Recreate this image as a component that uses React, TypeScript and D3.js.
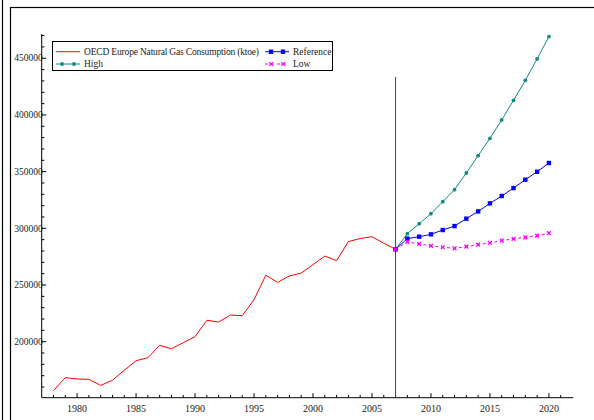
import React, { useEffect, useRef } from "react";
import * as d3 from "d3";

const histYears = d3.range(1978, 2008);
const histValues = [
  156800, 168300, 167100, 166800, 161500, 166000, 174800, 183200, 185900, 196800,
  193800, 199100, 204400, 218900, 217400, 223500, 222900, 237000, 258700, 252300,
  258000, 260500, 267900, 275500, 271500, 288300, 291000, 292600, 286900, 281500,
];

const projYears = d3.range(2007, 2021);
const highValues = [
  281500, 295300, 304100, 312900, 323500, 334100, 348800, 364100, 379400, 395600,
  412900, 430500, 449400, 469100,
];
const referenceValues = [
  281500, 290900, 292600, 294700, 298500, 302000, 308500, 314900, 322000, 328500,
  335500, 342900, 349900, 357600,
];
const lowValues = [
  281500, 288000, 286300, 284500, 283300, 282400, 283900, 285600, 287100, 289200,
  290700, 292100, 293600, 295700,
];

const yMajorTicks = [200000, 250000, 300000, 350000, 400000, 450000];
const xMajorTicks = [1980, 1985, 1990, 1995, 2000, 2005, 2010, 2015, 2020];

const FONT = "'Liberation Serif', 'Times New Roman', serif";

const App: React.FC = () => {
  const ref = useRef<SVGSVGElement>(null);

  useEffect(() => {
    if (!ref.current) return;
    const svg = d3.select(ref.current);
    svg.selectAll("*").remove();

    const x = d3.scaleLinear().domain([1977, 2022]).range([41.7, 572.5]);
    const y = d3.scaleLinear().domain([150600, 471400]).range([397.7, 34]);

    // outer frames
    svg.append("line").attr("x1", 2.5).attr("x2", 2.5).attr("y1", 0).attr("y2", 420)
      .attr("stroke", "#000").attr("stroke-width", 1.2);
    svg.append("rect").attr("x", 10.5).attr("y", 7.5).attr("width", 600).attr("height", 430)
      .attr("fill", "none").attr("stroke", "#000").attr("stroke-width", 1.2);

    const axisColor = "#000";
    // y axis
    svg.append("line").attr("x1", x(1977)).attr("x2", x(1977))
      .attr("y1", y(471400)).attr("y2", y(150600)).attr("stroke", axisColor);
    const yMinor = d3.range(160000, 471000, 10000);
    svg.append("g").selectAll("line").data(yMinor).enter().append("line")
      .attr("x1", x(1977)).attr("x2", (d: number) => x(1977) + (d % 50000 === 0 ? 4.5 : 2.7))
      .attr("y1", (d: number) => y(d)).attr("y2", (d: number) => y(d))
      .attr("stroke", axisColor);
    svg.append("g").selectAll("text").data(yMajorTicks).enter().append("text")
      .attr("x", x(1977) + 1).attr("y", (d: number) => y(d) + 3.2)
      .attr("text-anchor", "end")
      .style("font-family", FONT).style("font-size", "9.5px").style("fill", "#222")
      .text((d: number) => String(d));

    // x axis
    svg.append("line").attr("x1", x(1977)).attr("x2", 573.3)
      .attr("y1", y(150600)).attr("y2", y(150600)).attr("stroke", axisColor);
    const xMinor = d3.range(1978, 2022);
    svg.append("g").selectAll("line").data(xMinor).enter().append("line")
      .attr("x1", (d: number) => x(d)).attr("x2", (d: number) => x(d))
      .attr("y1", y(150600)).attr("y2", (d: number) => y(150600) - (d % 5 === 0 ? 4.5 : 2.7))
      .attr("stroke", axisColor);
    svg.append("g").selectAll("text").data(xMajorTicks).enter().append("text")
      .attr("x", (d: number) => x(d)).attr("y", 412)
      .attr("text-anchor", "middle")
      .style("font-family", FONT).style("font-size", "10px").style("fill", "#222")
      .text((d: number) => String(d));

    // 2007 divider
    svg.append("line").attr("x1", x(2007)).attr("x2", x(2007))
      .attr("y1", 77).attr("y2", y(150600)).attr("stroke", "#444").attr("stroke-width", 1);

    const line = d3.line<[number, number]>().x((d) => x(d[0])).y((d) => y(d[1]));

    // history
    svg.append("path")
      .datum(histYears.map((yr, i) => [yr, histValues[i]] as [number, number]))
      .attr("d", line).attr("fill", "none").attr("stroke", "#ff0000").attr("stroke-width", 1);

    const TEAL = "#0f8a84";
    const BLUE = "#0000ff";
    const MAGENTA = "#ff00ff";

    const drawMarker = (g: any, cx: number, cy: number, color: string, marker: string) => {
      if (marker === "circle") {
        g.append("circle").attr("cx", cx).attr("cy", cy).attr("r", 1.9).attr("fill", color);
      } else if (marker === "square") {
        g.append("rect").attr("x", cx - 2.2).attr("y", cy - 2.2).attr("width", 4.4).attr("height", 4.4)
          .attr("fill", color);
      } else {
        const s = 1.9;
        g.append("path").attr("d", `M${cx - s},${cy - s}L${cx + s},${cy + s}M${cx - s},${cy + s}L${cx + s},${cy - s}`)
          .attr("stroke", color).attr("stroke-width", 1.3).attr("fill", "none");
      }
    };

    const drawSeries = (vals: number[], color: string, dash: string | null, marker: string) => {
      const pts = projYears.map((yr, i) => [yr, vals[i]] as [number, number]);
      const p = svg.append("path").datum(pts).attr("d", line)
        .attr("fill", "none").attr("stroke", color).attr("stroke-width", 1);
      if (dash) p.attr("stroke-dasharray", dash);
      const g = svg.append("g");
      pts.forEach(([yr, v]) => drawMarker(g, x(yr), y(v), color, marker));
    };

    drawSeries(highValues, TEAL, null, "circle");
    drawSeries(referenceValues, BLUE, null, "square");
    drawSeries(lowValues, MAGENTA, "3,3", "cross");

    // legend
    const lg = svg.append("g");
    lg.append("rect").attr("x", 52.5).attr("y", 41.5).attr("width", 280).attr("height", 29)
      .attr("fill", "#fff").attr("stroke", "#000").attr("stroke-width", 1);
    const legendItems = [
      { label: "OECD Europe Natural Gas Consumption (ktoe)", color: "#ff0000", marker: "none", dash: null, lx: 56, ly: 51.7, w: 175 },
      { label: "High", color: TEAL, marker: "circle", dash: null, lx: 56, ly: 64, w: 0 },
      { label: "Reference", color: BLUE, marker: "square", dash: null, lx: 265, ly: 51.7, w: 0 },
      { label: "Low", color: MAGENTA, marker: "cross", dash: "3,3", lx: 265, ly: 64, w: 0 },
    ];
    legendItems.forEach((it) => {
      const l = lg.append("line").attr("x1", it.lx).attr("x2", it.lx + 24)
        .attr("y1", it.ly).attr("y2", it.ly).attr("stroke", it.color).attr("stroke-width", 1);
      if (it.dash) l.attr("stroke-dasharray", it.dash);
      if (it.marker !== "none") {
        drawMarker(lg, it.lx + 6, it.ly, it.color, it.marker);
        drawMarker(lg, it.lx + 18, it.ly, it.color, it.marker);
      }
      const t = lg.append("text").attr("x", it.lx + 28).attr("y", it.ly + 3.2)
        .style("font-family", FONT).style("font-size", "9.5px").style("fill", "#222")
        .text(it.label);
      if (it.w) t.attr("textLength", it.w).attr("lengthAdjust", "spacing");
    });
  }, []);

  return (
    <svg
      ref={ref}
      width={594}
      height={420}
      style={{ position: "absolute", left: 0, top: 0, background: "#fff" }}
    />
  );
};

export default App;
